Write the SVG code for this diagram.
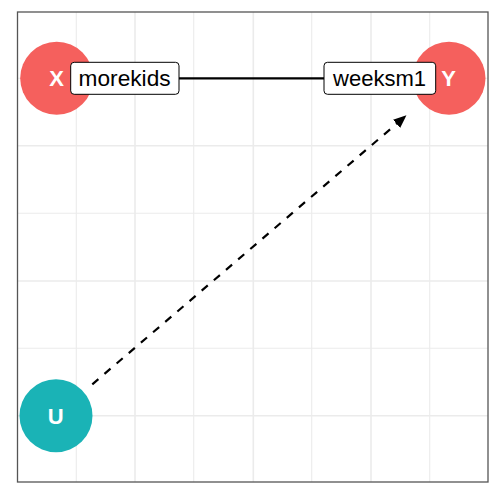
<svg xmlns="http://www.w3.org/2000/svg" width="500" height="500" viewBox="0 0 500 500">
<style>
.grid{stroke:#EBEBEB;fill:none}
.maj{stroke-width:1.6}
.min{stroke-width:1.1}
.nodeX{fill:#F5605D}
.nodeU{fill:#1AB3B6}
.nlab{font-family:"Liberation Sans",Arial,sans-serif;font-weight:bold;font-size:22px;fill:#FFFFFF;text-anchor:middle}
.elab{font-family:"Liberation Sans",Arial,sans-serif;font-size:21.5px;fill:#000000;text-anchor:middle}
.box{fill:#FFFFFF;stroke:#000000;stroke-width:1}
.edge{stroke:#000000;stroke-width:2.2;fill:none}
</style>
<defs>
<marker id="arr" markerWidth="13" markerHeight="11" refX="12" refY="5.5" orient="auto" markerUnits="userSpaceOnUse">
<path d="M0,0 L13,5.5 L0,11 Z" fill="#000000"/>
</marker>
</defs>
<rect x="0" y="0" width="500" height="500" fill="#FFFFFF"/>
<g id="grid">
<line class="grid min" x1="76.3" y1="12" x2="76.3" y2="482"/>
<line class="grid maj" x1="135" y1="12" x2="135" y2="482"/>
<line class="grid min" x1="193.7" y1="12" x2="193.7" y2="482"/>
<line class="grid maj" x1="253.3" y1="12" x2="253.3" y2="482"/>
<line class="grid min" x1="311.7" y1="12" x2="311.7" y2="482"/>
<line class="grid maj" x1="371" y1="12" x2="371" y2="482"/>
<line class="grid min" x1="429.7" y1="12" x2="429.7" y2="482"/>
<line class="grid min" x1="17.5" y1="78.3" x2="488" y2="78.3"/>
<line class="grid maj" x1="17.5" y1="145.7" x2="488" y2="145.7"/>
<line class="grid min" x1="17.5" y1="213.3" x2="488" y2="213.3"/>
<line class="grid maj" x1="17.5" y1="281" x2="488" y2="281"/>
<line class="grid min" x1="17.5" y1="348.3" x2="488" y2="348.3"/>
<line class="grid maj" x1="17.5" y1="415.7" x2="488" y2="415.7"/>
</g>
<g id="node-X">
<circle class="nodeX" cx="56.7" cy="78.3" r="36.5"/>
<text class="nlab" x="56.7" y="86">X</text>
</g>
<g id="node-Y">
<circle class="nodeX" cx="449" cy="78.3" r="36.5"/>
<text class="nlab" x="448.5" y="86">Y</text>
</g>
<g id="node-U">
<circle class="nodeU" cx="56" cy="415.7" r="36.5"/>
<text class="nlab" x="55.8" y="423.5">U</text>
</g>
<g id="connectors">
<line class="edge" x1="179" y1="78.3" x2="324" y2="78.3"/>
<line class="edge" x1="92.3" y1="384.3" x2="405.7" y2="116" stroke-dasharray="8,8" marker-end="url(#arr)"/>
</g>
<g id="label-morekids">
<rect class="box" x="70.7" y="62.3" width="108.3" height="32" rx="3.5"/>
<text class="elab" x="124.6" y="86" textLength="92" lengthAdjust="spacingAndGlyphs">morekids</text>
</g>
<g id="label-weeksm1">
<rect class="box" x="324" y="62.3" width="111.7" height="32" rx="3.5"/>
<text class="elab" x="379.5" y="86" textLength="93" lengthAdjust="spacingAndGlyphs">weeksm1</text>
</g>
<rect x="17.5" y="12" width="470.5" height="470" fill="none" stroke="#555555" stroke-width="1.3"/>
</svg>
